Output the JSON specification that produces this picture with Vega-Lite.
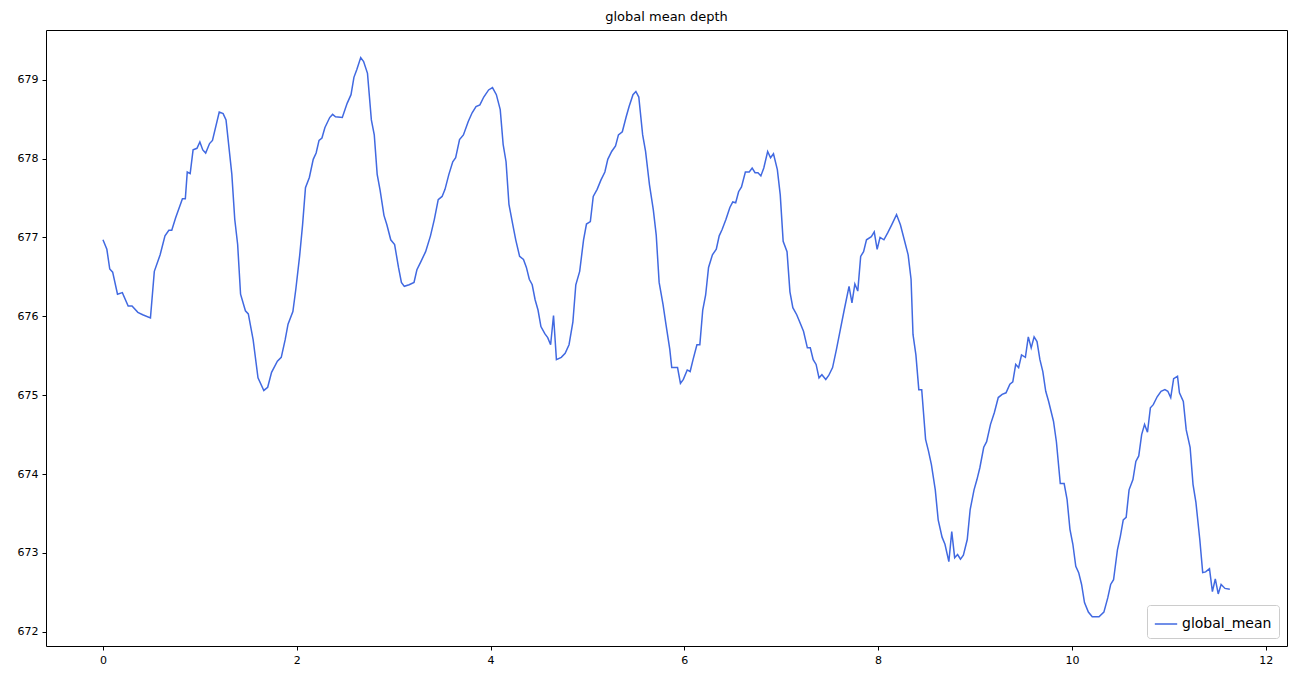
{
  "$schema": "https://vega.github.io/schema/vega-lite/v6.json",
  "width": 1241,
  "height": 616,
  "autosize": {"type": "none"},
  "padding": {"left": 46, "top": 30, "right": 9, "bottom": 34},
  "background": "white",
  "title": {"text": "global mean depth", "fontSize": 13, "fontWeight": "normal", "font": "DejaVu Sans", "color": "black", "offset": 6},
  "data": {"values": [
    {"x":0,"y":676.97},{"x":0.04,"y":676.85},{"x":0.07,"y":676.6},{"x":0.1,"y":676.56},{"x":0.15,"y":676.28},{"x":0.2,"y":676.3},{"x":0.26,"y":676.13},{"x":0.3,"y":676.13},{"x":0.36,"y":676.05},{"x":0.41,"y":676.02},{"x":0.49,"y":675.98},{"x":0.53,"y":676.57},{"x":0.59,"y":676.78},{"x":0.64,"y":677.02},{"x":0.68,"y":677.09},{"x":0.71,"y":677.09},{"x":0.75,"y":677.25},{"x":0.82,"y":677.49},{"x":0.85,"y":677.49},{"x":0.87,"y":677.83},{"x":0.9,"y":677.81},{"x":0.93,"y":678.11},{"x":0.97,"y":678.13},{"x":1.0,"y":678.21},{"x":1.03,"y":678.11},{"x":1.06,"y":678.07},{"x":1.1,"y":678.19},{"x":1.13,"y":678.23},{"x":1.2,"y":678.59},{"x":1.24,"y":678.57},{"x":1.27,"y":678.49},{"x":1.33,"y":677.8},{"x":1.36,"y":677.23},{"x":1.39,"y":676.91},{"x":1.42,"y":676.28},{"x":1.47,"y":676.07},{"x":1.5,"y":676.03},{"x":1.55,"y":675.7},{"x":1.6,"y":675.22},{"x":1.66,"y":675.06},{"x":1.7,"y":675.1},{"x":1.74,"y":675.29},{"x":1.8,"y":675.43},{"x":1.84,"y":675.48},{"x":1.88,"y":675.7},{"x":1.91,"y":675.9},{"x":1.96,"y":676.06},{"x":1.99,"y":676.34},{"x":2.03,"y":676.77},{"x":2.06,"y":677.16},{"x":2.09,"y":677.63},{"x":2.13,"y":677.76},{"x":2.17,"y":677.99},{"x":2.2,"y":678.07},{"x":2.23,"y":678.23},{"x":2.26,"y":678.26},{"x":2.29,"y":678.39},{"x":2.34,"y":678.52},{"x":2.37,"y":678.56},{"x":2.4,"y":678.53},{"x":2.47,"y":678.52},{"x":2.52,"y":678.7},{"x":2.56,"y":678.81},{"x":2.59,"y":679.03},{"x":2.62,"y":679.13},{"x":2.66,"y":679.28},{"x":2.69,"y":679.23},{"x":2.73,"y":679.08},{"x":2.77,"y":678.49},{"x":2.8,"y":678.3},{"x":2.83,"y":677.8},{"x":2.86,"y":677.6},{"x":2.9,"y":677.28},{"x":2.93,"y":677.16},{"x":2.97,"y":676.97},{"x":3.01,"y":676.91},{"x":3.05,"y":676.62},{"x":3.08,"y":676.43},{"x":3.11,"y":676.38},{"x":3.16,"y":676.4},{"x":3.21,"y":676.43},{"x":3.24,"y":676.59},{"x":3.28,"y":676.69},{"x":3.33,"y":676.82},{"x":3.38,"y":677.02},{"x":3.42,"y":677.23},{"x":3.46,"y":677.48},{"x":3.5,"y":677.52},{"x":3.53,"y":677.61},{"x":3.57,"y":677.8},{"x":3.61,"y":677.96},{"x":3.64,"y":678.01},{"x":3.68,"y":678.24},{"x":3.72,"y":678.3},{"x":3.77,"y":678.47},{"x":3.81,"y":678.58},{"x":3.85,"y":678.66},{"x":3.89,"y":678.68},{"x":3.93,"y":678.78},{"x":3.98,"y":678.87},{"x":4.02,"y":678.9},{"x":4.06,"y":678.81},{"x":4.1,"y":678.62},{"x":4.13,"y":678.18},{"x":4.16,"y":677.96},{"x":4.19,"y":677.42},{"x":4.23,"y":677.16},{"x":4.26,"y":676.97},{"x":4.3,"y":676.76},{"x":4.34,"y":676.72},{"x":4.37,"y":676.62},{"x":4.4,"y":676.47},{"x":4.43,"y":676.4},{"x":4.46,"y":676.21},{"x":4.49,"y":676.08},{"x":4.52,"y":675.87},{"x":4.56,"y":675.78},{"x":4.59,"y":675.73},{"x":4.62,"y":675.64},{"x":4.65,"y":676.01},{"x":4.68,"y":675.45},{"x":4.73,"y":675.48},{"x":4.77,"y":675.53},{"x":4.81,"y":675.64},{"x":4.85,"y":675.93},{"x":4.88,"y":676.4},{"x":4.92,"y":676.57},{"x":4.96,"y":676.97},{"x":4.99,"y":677.17},{"x":5.03,"y":677.2},{"x":5.06,"y":677.52},{"x":5.1,"y":677.61},{"x":5.14,"y":677.73},{"x":5.18,"y":677.83},{"x":5.21,"y":677.99},{"x":5.25,"y":678.09},{"x":5.29,"y":678.16},{"x":5.32,"y":678.3},{"x":5.36,"y":678.34},{"x":5.4,"y":678.53},{"x":5.43,"y":678.66},{"x":5.47,"y":678.81},{"x":5.5,"y":678.85},{"x":5.53,"y":678.78},{"x":5.57,"y":678.3},{"x":5.6,"y":678.09},{"x":5.64,"y":677.67},{"x":5.68,"y":677.35},{"x":5.71,"y":677.03},{"x":5.74,"y":676.43},{"x":5.78,"y":676.15},{"x":5.81,"y":675.9},{"x":5.85,"y":675.58},{"x":5.87,"y":675.35},{"x":5.93,"y":675.35},{"x":5.96,"y":675.15},{"x":5.99,"y":675.2},{"x":6.03,"y":675.32},{"x":6.06,"y":675.3},{"x":6.09,"y":675.45},{"x":6.13,"y":675.64},{"x":6.16,"y":675.64},{"x":6.19,"y":676.08},{"x":6.22,"y":676.27},{"x":6.25,"y":676.62},{"x":6.29,"y":676.78},{"x":6.33,"y":676.85},{"x":6.36,"y":677.02},{"x":6.39,"y":677.1},{"x":6.43,"y":677.23},{"x":6.47,"y":677.38},{"x":6.5,"y":677.45},{"x":6.53,"y":677.44},{"x":6.56,"y":677.58},{"x":6.59,"y":677.64},{"x":6.63,"y":677.83},{"x":6.67,"y":677.83},{"x":6.7,"y":677.88},{"x":6.73,"y":677.82},{"x":6.76,"y":677.82},{"x":6.79,"y":677.78},{"x":6.82,"y":677.88},{"x":6.86,"y":678.09},{"x":6.89,"y":678.01},{"x":6.92,"y":678.06},{"x":6.96,"y":677.86},{"x":6.99,"y":677.54},{"x":7.02,"y":676.95},{"x":7.06,"y":676.82},{"x":7.09,"y":676.31},{"x":7.12,"y":676.11},{"x":7.16,"y":676.02},{"x":7.19,"y":675.93},{"x":7.23,"y":675.81},{"x":7.27,"y":675.6},{"x":7.3,"y":675.6},{"x":7.33,"y":675.45},{"x":7.36,"y":675.39},{"x":7.39,"y":675.22},{"x":7.42,"y":675.26},{"x":7.46,"y":675.2},{"x":7.49,"y":675.25},{"x":7.53,"y":675.35},{"x":7.57,"y":675.58},{"x":7.61,"y":675.83},{"x":7.65,"y":676.08},{"x":7.7,"y":676.38},{"x":7.73,"y":676.17},{"x":7.76,"y":676.41},{"x":7.79,"y":676.32},{"x":7.82,"y":676.76},{"x":7.85,"y":676.82},{"x":7.88,"y":676.97},{"x":7.93,"y":677.01},{"x":7.96,"y":677.07},{"x":7.99,"y":676.85},{"x":8.02,"y":677.0},{"x":8.06,"y":676.97},{"x":8.1,"y":677.06},{"x":8.14,"y":677.16},{"x":8.19,"y":677.29},{"x":8.23,"y":677.16},{"x":8.27,"y":676.97},{"x":8.31,"y":676.78},{"x":8.34,"y":676.47},{"x":8.36,"y":675.77},{"x":8.39,"y":675.51},{"x":8.42,"y":675.07},{"x":8.45,"y":675.07},{"x":8.49,"y":674.44},{"x":8.52,"y":674.29},{"x":8.55,"y":674.12},{"x":8.59,"y":673.8},{"x":8.62,"y":673.42},{"x":8.66,"y":673.2},{"x":8.69,"y":673.11},{"x":8.73,"y":672.89},{"x":8.76,"y":673.27},{"x":8.79,"y":672.94},{"x":8.82,"y":672.98},{"x":8.85,"y":672.92},{"x":8.88,"y":672.97},{"x":8.92,"y":673.17},{"x":8.95,"y":673.55},{"x":8.99,"y":673.8},{"x":9.02,"y":673.93},{"x":9.05,"y":674.08},{"x":9.09,"y":674.34},{"x":9.12,"y":674.41},{"x":9.16,"y":674.63},{"x":9.2,"y":674.78},{"x":9.24,"y":674.97},{"x":9.28,"y":675.01},{"x":9.32,"y":675.03},{"x":9.36,"y":675.14},{"x":9.39,"y":675.17},{"x":9.42,"y":675.39},{"x":9.45,"y":675.35},{"x":9.48,"y":675.51},{"x":9.52,"y":675.48},{"x":9.55,"y":675.74},{"x":9.58,"y":675.6},{"x":9.61,"y":675.74},{"x":9.64,"y":675.68},{"x":9.67,"y":675.45},{"x":9.7,"y":675.3},{"x":9.73,"y":675.05},{"x":9.76,"y":674.92},{"x":9.81,"y":674.67},{"x":9.84,"y":674.41},{"x":9.88,"y":673.88},{"x":9.92,"y":673.88},{"x":9.95,"y":673.68},{"x":9.98,"y":673.3},{"x":10.01,"y":673.11},{"x":10.04,"y":672.83},{"x":10.07,"y":672.75},{"x":10.1,"y":672.6},{"x":10.13,"y":672.37},{"x":10.17,"y":672.25},{"x":10.21,"y":672.19},{"x":10.28,"y":672.19},{"x":10.33,"y":672.25},{"x":10.37,"y":672.43},{"x":10.4,"y":672.6},{"x":10.43,"y":672.66},{"x":10.47,"y":673.04},{"x":10.5,"y":673.21},{"x":10.53,"y":673.42},{"x":10.56,"y":673.45},{"x":10.59,"y":673.8},{"x":10.63,"y":673.93},{"x":10.66,"y":674.16},{"x":10.69,"y":674.23},{"x":10.72,"y":674.5},{"x":10.75,"y":674.63},{"x":10.78,"y":674.53},{"x":10.81,"y":674.84},{"x":10.84,"y":674.88},{"x":10.88,"y":674.98},{"x":10.92,"y":675.05},{"x":10.96,"y":675.07},{"x":10.99,"y":675.05},{"x":11.02,"y":674.97},{"x":11.05,"y":675.21},{"x":11.09,"y":675.24},{"x":11.11,"y":675.03},{"x":11.15,"y":674.92},{"x":11.18,"y":674.56},{"x":11.22,"y":674.34},{"x":11.25,"y":673.87},{"x":11.28,"y":673.64},{"x":11.32,"y":673.17},{"x":11.35,"y":672.75},{"x":11.38,"y":672.76},{"x":11.42,"y":672.8},{"x":11.45,"y":672.51},{"x":11.48,"y":672.67},{"x":11.51,"y":672.48},{"x":11.54,"y":672.6},{"x":11.58,"y":672.55},{"x":11.63,"y":672.54}
  ]},
  "mark": {"type": "line", "strokeWidth": 1.5, "clip": true},
  "encoding": {
    "x": {
      "field": "x",
      "type": "quantitative",
      "scale": {"domain": [-0.588, 12.22], "nice": false, "zero": false},
      "axis": {"values": [0, 2, 4, 6, 8, 10, 12], "title": null, "grid": false, "domain": false, "tickColor": "black", "tickSize": 4, "labelColor": "black", "labelFontSize": 11, "labelFont": "DejaVu Sans", "labelPadding": 4}
    },
    "y": {
      "field": "y",
      "type": "quantitative",
      "scale": {"domain": [671.82, 679.63], "nice": false, "zero": false},
      "axis": {"values": [672, 673, 674, 675, 676, 677, 678, 679], "title": null, "grid": false, "domain": false, "tickColor": "black", "tickSize": 4, "labelColor": "black", "labelFontSize": 11, "labelFont": "DejaVu Sans", "labelPadding": 4}
    },
    "color": {
      "datum": "global_mean",
      "scale": {"range": ["#4169e1"]},
      "legend": {
        "title": null, "orient": "bottom-right", "offset": 8,
        "fillColor": "white", "strokeColor": "#cccccc", "cornerRadius": 3, "padding": 7,
        "symbolType": "stroke", "symbolSize": 500, "symbolStrokeWidth": 1.5,
        "labelFontSize": 14, "labelFont": "DejaVu Sans", "labelColor": "black"
      }
    }
  },
  "config": {"view": {"stroke": "black", "strokeWidth": 1}}
}
